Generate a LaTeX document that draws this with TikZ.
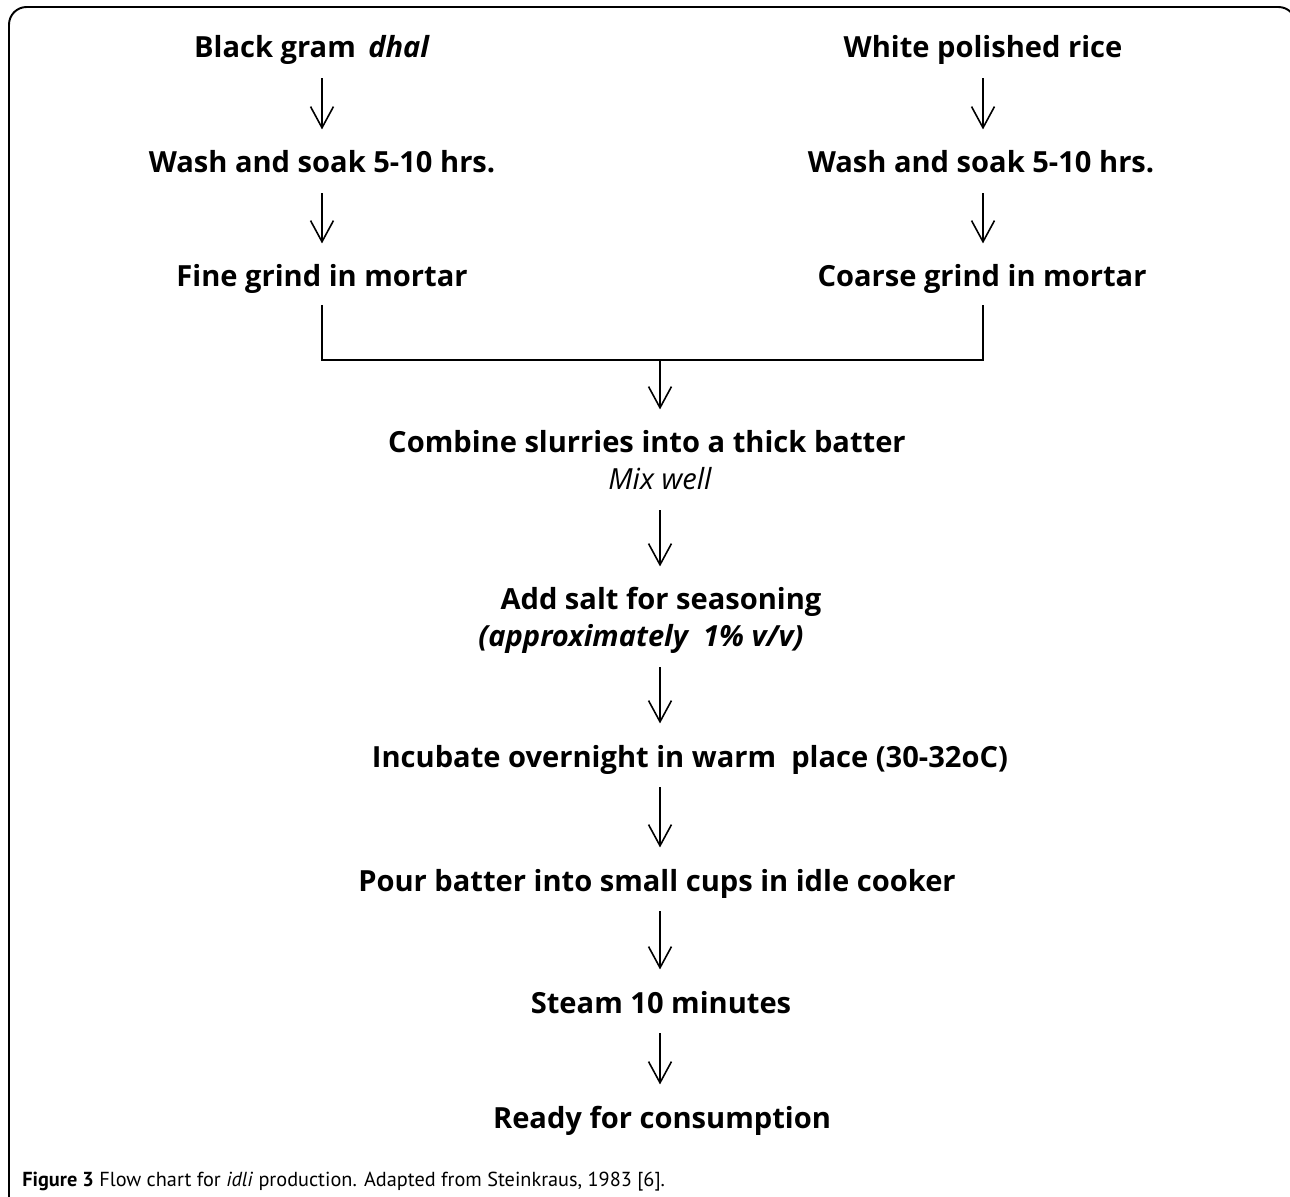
\documentclass[tikz,border=0pt]{standalone}
\usepackage{fontspec}
\setmainfont{Open Sans}
\newfontfamily\capfont{PT Sans}
\usetikzlibrary{arrows.meta}

\begin{document}
\begin{tikzpicture}[x=0.567pt,y=-0.567pt,
    stage/.style={anchor=base,inner sep=0pt,text height=12.5pt,text depth=4pt,
        font=\fontsize{16.5}{20}\selectfont\bfseries},
    note/.style={stage,font=\fontsize{16.5}{20}\selectfont\itshape},
    flow/.style={-{Straight Barb[length=12pt,width=13pt]},line width=0.9pt,
        shorten <=7.4pt,shorten >=12pt},
    linkline/.style={line width=0.9pt}]
\useasboundingbox (0,0) rectangle (1290,1197);
\draw[line width=1.1pt,rounded corners=10pt] (9,1240) -- (9,7) -- (1296,7) -- (1296,1240);
\coordinate (colL) at (322,0);
\coordinate (colR) at (983,0);
\coordinate (colM) at (660,0);
\node[stage] (black) at (312,58) {Black gram\, \textit{dhal}};
\node[stage] (rice) at (983,58) {White polished rice};
\node[stage] (washL) at (322,173) {Wash and soak 5-10 hrs.};
\node[stage] (washR) at (981,173) {Wash and soak 5-10 hrs.};
\node[stage] (fine) at (322,287) {Fine grind in mortar};
\node[stage] (coarse) at (982,287) {Coarse grind in mortar};
\coordinate (merge) at (660,360);
\node[stage] (combine) at (647,453) {Combine slurries into a thick batter};
\node[note] (mix) at (660,490) {Mix well};
\node[stage] (salt) at (661,610) {Add salt for seasoning};
\node[stage] (approx) at (641,647) {\textit{(approximately~ 1\% v/v)}};
\node[stage] (incubate) at (690,767) {Incubate overnight in warm~ place (30-32oC)};
\node[stage] (pour) at (657,891) {Pour batter into small cups in idle cooker};
\node[stage] (steam) at (661,1013) {Steam 10 minutes};
\node[stage] (ready) at (662,1128) {Ready for consumption};
\node[anchor=base west,inner sep=0pt,font=\capfont\fontsize{11.5}{13}\selectfont] (caption) at (22,1186)
    {\textbf{Figure 3} Flow chart for \textit{idli} production. Adapted from Steinkraus, 1983 [6].};
\draw[flow] (black.south -| colL) -- (washL.north -| colL);
\draw[flow] (washL.south -| colL) -- (fine.north -| colL);
\draw[flow] (rice.south -| colR) -- (washR.north -| colR);
\draw[flow] (washR.south -| colR) -- (coarse.north -| colR);
\draw[linkline,shorten <=6pt,shorten >=6pt] (fine.south -| colL) |- (merge) -| (coarse.south -| colR);
\draw[flow,shorten <=0pt] (merge) -- (combine.north -| colM);
\draw[flow] (mix.south -| colM) -- (salt.north -| colM);
\draw[flow] (approx.south -| colM) -- (incubate.north -| colM);
\draw[flow] (incubate.south -| colM) -- (pour.north -| colM);
\draw[flow] (pour.south -| colM) -- (steam.north -| colM);
\draw[flow] (steam.south -| colM) -- (ready.north -| colM);
\end{tikzpicture}
\end{document}
